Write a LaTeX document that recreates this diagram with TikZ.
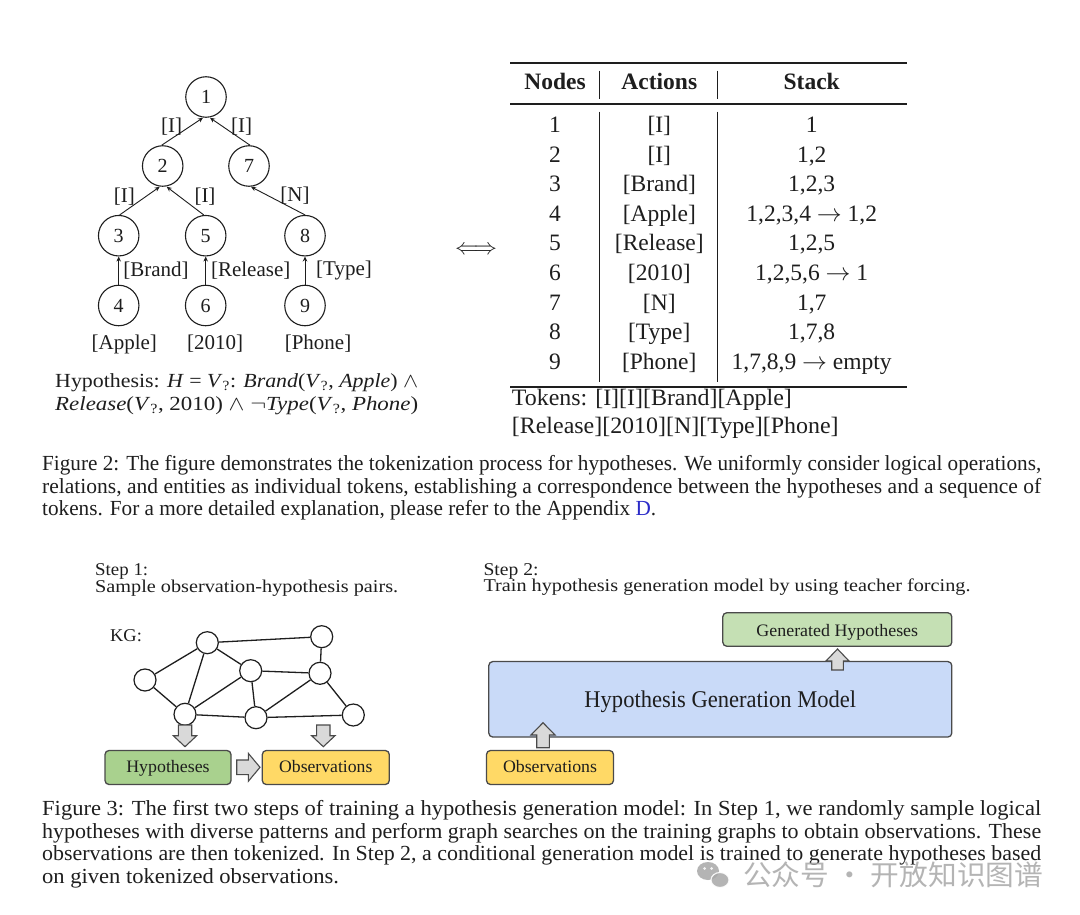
\documentclass[tikz,border=0pt]{standalone}
\usepackage{fontspec}
\setmainfont{Liberation Serif}
\newfontfamily\cjkfont{Noto Sans CJK SC}
\usepackage{graphicx}
\usetikzlibrary{arrows.meta,calc}
\definecolor{ink}{HTML}{1E1E1E}
\definecolor{hypgreen}{HTML}{A9D18E}
\definecolor{gengreen}{HTML}{C5E0B4}
\definecolor{obsyellow}{HTML}{FFD966}
\definecolor{modelblue}{HTML}{C9DAF8}
\definecolor{boxline}{HTML}{4A4A4A}
\definecolor{arrowfill}{HTML}{D9D9D9}
\definecolor{linkblue}{HTML}{2B2BC8}
\definecolor{wmgray}{HTML}{A8A8A8}
\newlength\capLa
\newlength\capLb
\newcommand\capfont{\fontsize{21.5}{22.5}\selectfont}
\newcommand\stepfont{\fontsize{18}{20}\selectfont}
\newcommand\vblock[6]{% x, y start, y head base, y tip, shaft half, head half
  \draw[barrow] (#1-#5,#2) -- (#1+#5,#2) -- (#1+#5,#3) -- (#1+#6,#3) -- (#1,#4)
    -- (#1-#6,#3) -- (#1-#5,#3) -- cycle;}
\begin{document}
\settowidth\capLa{\capfont Figure 2: The figure demonstrates the tokenization process for hypotheses. We uniformly consider logical operations,}
\settowidth\capLb{\capfont Figure 3: The first two steps of training a hypothesis generation model: In Step 1, we randomly sample logical}
\pgfmathsetmacro\capsxa{999/\capLa}
\pgfmathsetmacro\capsxb{999/\capLb}
\begin{tikzpicture}[x=1pt,y=-1pt,
  tnode/.style={circle, draw=ink, line width=1.1pt, minimum size=40.5pt, inner sep=0pt,
    font=\fontsize{20}{22}\selectfont, text=ink},
  tlab/.style={inner sep=0pt, font=\fontsize{21}{24}\selectfont, text=ink},
  tedge/.style={draw=ink, line width=0.9pt, -{Stealth[length=5pt,width=4.5pt]}},
  tcell/.style={anchor=base, inner sep=0pt, font=\fontsize{23.5}{26}\selectfont, text=ink},
  thead/.style={anchor=base, inner sep=0pt, font=\fontsize{23.5}{26}\selectfont\bfseries, text=ink},
  txt/.style={anchor=base west, inner sep=0pt, text=ink},
  tabrule/.style={draw=ink, line width=1.8pt},
  tabvline/.style={draw=ink, line width=1.2pt},
  kgnode/.style={circle, draw=ink, fill=white, line width=1.2pt, minimum size=22pt, inner sep=0pt},
  kgedge/.style={draw=ink, line width=1.3pt},
  cbox/.style={draw=boxline, line width=1.3pt, rounded corners=4pt, inner sep=0pt, text=ink, text depth=0pt},
  barrow/.style={draw=boxline, fill=arrowfill, line width=1.1pt, line join=miter}
]
\fill[white] (0,0) rectangle (1080,915);
\useasboundingbox (0,0) rectangle (1080,915);

% ---------------- Tree ----------------
\node[tnode] (n1) at (206,97) {1};
\node[tnode] (n2) at (162.7,166) {2};
\node[tnode] (n7) at (249,166) {7};
\node[tnode] (n3) at (118.7,235.7) {3};
\node[tnode] (n5) at (205.7,235.7) {5};
\node[tnode] (n8) at (305,235.7) {8};
\node[tnode] (n4) at (118.7,305.5) {4};
\node[tnode] (n6) at (205.7,305.5) {6};
\node[tnode] (n9) at (305,305.5) {9};

\draw[tedge] ($(n2.north)+(-1,0)$) -- ($(n1.south)+(-3,0)$);
\draw[tedge] ($(n7.north)+(1,0)$) -- ($(n1.south)+(4,0)$);
\draw[tedge] ($(n3.north)+(1,0)$) -- ($(n2.south)+(-3,0)$);
\draw[tedge] ($(n5.north)+(-2,0)$) -- ($(n2.south)+(4,0)$);
\draw[tedge] (n8.north) -- ($(n7.south)+(2,0)$);
\draw[tedge] (n4.north) -- (n3.south);
\draw[tedge] (n6.north) -- (n5.south);
\draw[tedge] (n9.north) -- (n8.south);

\node[tlab] (e21) at (171.7,126.7) {[I]};
\node[tlab] (e71) at (241.7,126.7) {[I]};
\node[tlab] (e32) at (124.3,196.7) {[I]};
\node[tlab] (e52) at (205,196.7) {[I]};
\node[tlab] (e87) at (295,195.5) {[N]};
\node[tlab] (e43) at (156,270.7) {[Brand]};
\node[tlab] (e65) at (250.7,270.7) {[Release]};
\node[tlab] (e98) at (344,270.7) {[Type]};
\node[tlab] (v4) at (124.3,344) {[Apple]};
\node[tlab] (v6) at (215,344) {[2010]};
\node[tlab] (v9) at (318,344) {[Phone]};

\node[txt, font=\fontsize{20}{22}\selectfont] (hyp1) at (55,387.5)
  {\resizebox{363pt}{\height}{Hypothesis: \textit{H} = \textit{V}\textsubscript{?}: \textit{Brand}(\textit{V}\textsubscript{?}, \textit{Apple}) $\wedge$}};
\node[txt, font=\fontsize{20}{22}\selectfont] (hyp2) at (55,410)
  {\resizebox{363pt}{\height}{\textit{Release}(\textit{V}\textsubscript{?}, 2010) $\wedge$ $\neg$\textit{Type}(\textit{V}\textsubscript{?}, \textit{Phone})}};

% ---------------- Equivalence ----------------
\node[inner sep=0pt, text=ink] (iff) at (476,250) {\resizebox{42pt}{!}{$\Longleftrightarrow$}};

% ---------------- Table ----------------
\draw[tabrule] (510,62.7) -- (906.7,62.7);
\draw[draw=ink, line width=1.1pt] (510,104) -- (906.7,104);
\draw[tabrule] (510,386.7) -- (906.7,386.7);
\draw[tabvline] (599.3,70.7) -- (599.3,99.3);
\draw[tabvline] (717.7,70.7) -- (717.7,99.3);
\draw[tabvline] (599.3,111.7) -- (599.3,381.7);
\draw[tabvline] (717.7,111.7) -- (717.7,381.7);

\node[thead] (hN) at (555,90) {Nodes};
\node[thead] (hA) at (659.3,90) {Actions};
\node[thead] (hS) at (811.7,90) {Stack};

\foreach \n/\a/\s in {1/{[I]}/{1}, 2/{[I]}/{1,2}, 3/{[Brand]}/{1,2,3},
  4/{[Apple]}/{1,2,3,4 $\rightarrow$ 1,2}, 5/{[Release]}/{1,2,5},
  6/{[2010]}/{1,2,5,6 $\rightarrow$ 1}, 7/{[N]}/{1,7}, 8/{[Type]}/{1,7,8},
  9/{[Phone]}/{1,7,8,9 $\rightarrow$ empty}}{
  \pgfmathsetmacro\ry{132.5+(\n-1)*29.6}
  \node[tcell] (nd\n) at (555,\ry) {\n};
  \node[tcell] (ac\n) at (659.3,\ry) {\a};
  \node[tcell] (st\n) at (811.7,\ry) {\s};
}

\node[txt, font=\fontsize{23.5}{26}\selectfont] (tok1) at (511.7,405.5)
  {\resizebox{280pt}{\height}{Tokens: [I][I][Brand][Apple]}};
\node[txt, font=\fontsize{23.5}{26}\selectfont] (tok2) at (511.7,433.5)
  {\resizebox{326.7pt}{\height}{[Release][2010][N][Type][Phone]}};

% ---------------- Caption Figure 2 ----------------
\node[txt, font=\capfont] (c2a) at (42,470.7)
  {\resizebox{999pt}{\height}{Figure 2: The figure demonstrates the tokenization process for hypotheses. We uniformly consider logical operations,}};
\node[txt, font=\capfont] (c2b) at (42,493.3)
  {\resizebox{999pt}{\height}{relations, and entities as individual tokens, establishing a correspondence between the hypotheses and a sequence of}};
\node[txt, font=\capfont] (c2c) at (42,515.8)
  {\scalebox{\capsxa}[1]{tokens. For a more detailed explanation, please refer to the Appendix \textcolor{linkblue}{D}.}};

% ---------------- Step 1 ----------------
\node[txt, font=\stepfont] (s1a) at (95,575.8) {\resizebox{53pt}{\height}{Step 1:}};
\node[txt, font=\stepfont] (s1b) at (95,592.3) {\resizebox{303pt}{\height}{Sample observation-hypothesis pairs.}};
\node[txt, font=\stepfont] (kg) at (110,641) {\resizebox{31.7pt}{\height}{KG:}};

\node[kgnode] (A) at (207.3,642.7) {};
\node[kgnode] (B) at (321.7,636.7) {};
\node[kgnode] (C) at (145,680) {};
\node[kgnode] (D) at (250.7,670.7) {};
\node[kgnode] (E) at (320,673.3) {};
\node[kgnode] (F) at (185,714.3) {};
\node[kgnode] (G) at (256,717.7) {};
\node[kgnode] (H) at (353.3,715) {};
\foreach \u/\v in {A/B, A/C, A/F, A/D, B/E, C/F, F/D, F/G, D/E, D/G, G/E, G/H, E/H}
  \draw[kgedge] (\u) -- (\v);

\node[cbox, fill=hypgreen, minimum width=126pt, minimum height=34pt, text height=9.6pt,
  font=\fontsize{17.5}{20}\selectfont] (hyp) at (168,767.5) {\resizebox{83.3pt}{\height}{Hypotheses}};
\node[cbox, fill=obsyellow, minimum width=127pt, minimum height=34pt, text height=9.6pt,
  font=\fontsize{17.5}{20}\selectfont] (obs1) at (325.8,767.5) {\resizebox{93.3pt}{\height}{Observations}};

\vblock{185}{725}{735.7}{746.7}{6.7}{11.7}
\vblock{323.3}{725}{735.7}{746.7}{6.7}{11.7}
\draw[barrow] (236.7,760) -- (248.3,760) -- (248.3,753.3) -- (260,767.3) -- (248.3,781.3)
  -- (248.3,774.6) -- (236.7,774.6) -- cycle;

% ---------------- Step 2 ----------------
\node[txt, font=\stepfont] (s2a) at (483.3,575.8) {\resizebox{55pt}{\height}{Step 2:}};
\node[txt, font=\stepfont] (s2b) at (483.3,591.8) {\resizebox{487pt}{\height}{Train hypothesis generation model by using teacher forcing.}};

\node[cbox, fill=modelblue, minimum width=463pt, minimum height=75.5pt, text height=16.8pt,
  font=\fontsize{24}{28}\selectfont] (model) at (720.3,699.3) {\resizebox{271.7pt}{\height}{Hypothesis Generation Model}};
\node[cbox, fill=gengreen, minimum width=229pt, minimum height=33.5pt, text height=13pt,
  font=\fontsize{17.5}{20}\selectfont] (gen) at (837.3,629.5) {\resizebox{161.7pt}{\height}{Generated Hypotheses}};
\node[cbox, fill=obsyellow, minimum width=127pt, minimum height=34pt, text height=10.5pt,
  font=\fontsize{17.5}{20}\selectfont] (obs2) at (550,767.5) {\resizebox{94pt}{\height}{Observations}};

\vblock{543}{747.7}{735}{722.7}{6.3}{12}
\vblock{837.5}{670}{661}{649}{5.8}{11.5}

% ---------------- Caption Figure 3 ----------------
\node[txt, font=\capfont] (c3a) at (42,815.7)
  {\resizebox{999pt}{\height}{Figure 3: The first two steps of training a hypothesis generation model: In Step 1, we randomly sample logical}};
\node[txt, font=\capfont] (c3b) at (42,838.3)
  {\resizebox{999pt}{\height}{hypotheses with diverse patterns and perform graph searches on the training graphs to obtain observations. These}};
\node[txt, font=\capfont] (c3c) at (42,860.8)
  {\resizebox{999pt}{\height}{observations are then tokenized. In Step 2, a conditional generation model is trained to generate hypotheses based}};
\node[txt, font=\capfont] (c3d) at (42,883.3)
  {\scalebox{\capsxb}[1]{on given tokenized observations.}};

% ---------------- Watermark ----------------
\begin{scope}[opacity=0.85]
\fill[wmgray] (708,871) ellipse [x radius=11pt, y radius=9pt];
\fill[wmgray, draw=white, line width=1.2pt] (720,880) ellipse [x radius=9pt, y radius=7.5pt];
\fill[white] (704.5,868.5) circle [radius=1.5pt];
\fill[white] (711.5,868.5) circle [radius=1.5pt];
\node[anchor=west, inner sep=0pt, text=wmgray, font=\cjkfont\fontsize{28}{30}\selectfont] (wm) at (743,875)
  {\resizebox{300pt}{\height}{公众号 · 开放知识图谱}};
\end{scope}
\end{tikzpicture}
\end{document}
